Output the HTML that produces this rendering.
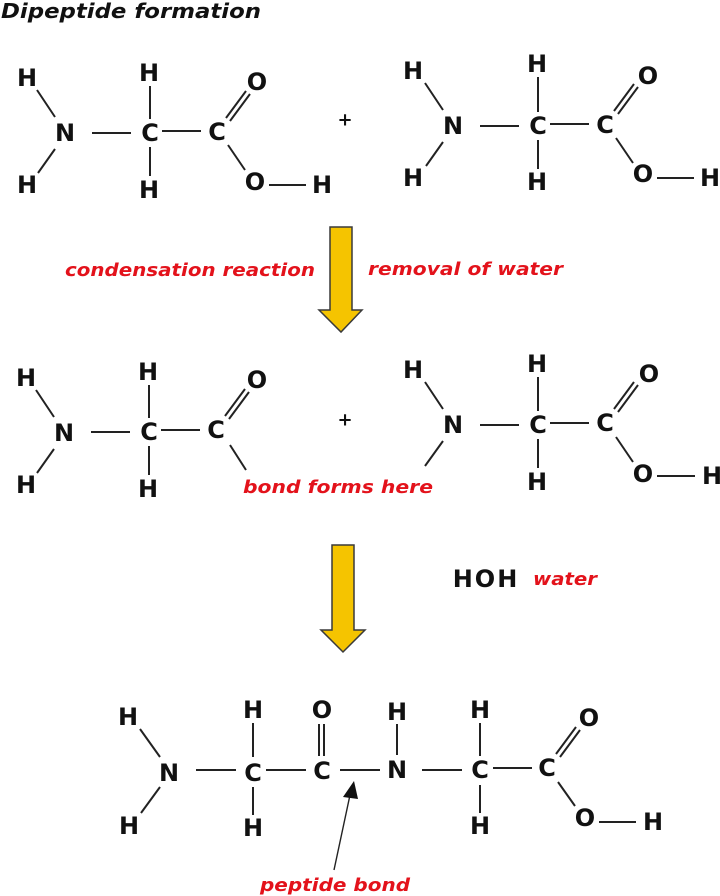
<!DOCTYPE html>
<html><head><meta charset="utf-8"><style>
html,body{margin:0;padding:0;background:#fff;}
svg{display:block;}
.a{font-family:"DejaVu Sans","Liberation Sans",sans-serif;font-weight:bold;font-size:24px;fill:#111;text-anchor:middle;dominant-baseline:central;}
.r{font-family:"DejaVu Sans","Liberation Sans",sans-serif;font-weight:bold;font-style:italic;font-size:18px;fill:#e3121b;}
line{stroke:#222;stroke-width:2;}
.ar{fill:#f5c400;stroke:#3a3a3a;stroke-width:1.5;}
</style></head><body>
<svg width="720" height="896" viewBox="0 0 720 896" xmlns="http://www.w3.org/2000/svg">
<text x="1" y="18" style="font-family:'DejaVu Sans',sans-serif;font-weight:bold;font-style:italic;font-size:20px;fill:#111;" textLength="260" lengthAdjust="spacingAndGlyphs">Dipeptide formation</text>

<g>
<text class="a" x="65" y="133">N</text>
<text class="a" x="150" y="133">C</text>
<text class="a" x="217" y="132">C</text>
<text class="a" x="27" y="78">H</text>
<text class="a" x="27" y="185">H</text>
<text class="a" x="149" y="73">H</text>
<text class="a" x="149" y="190">H</text>
<text class="a" x="257" y="82">O</text>
<text class="a" x="255" y="182">O</text>
<text class="a" x="322" y="185">H</text>
<line x1="37" y1="90" x2="55" y2="117"/>
<line x1="55" y1="149" x2="38" y2="173"/>
<line x1="92" y1="133" x2="131" y2="133"/>
<line x1="150" y1="86" x2="150" y2="119"/>
<line x1="150" y1="147" x2="150" y2="176"/>
<line x1="162" y1="131" x2="201" y2="131"/>
<line x1="226" y1="118" x2="246" y2="91"/>
<line x1="230" y1="121" x2="250" y2="94"/>
<line x1="228" y1="145" x2="245" y2="170"/>
<line x1="269" y1="185" x2="306" y2="185"/>
</g>
<text class="a" x="345" y="120" style="font-size:18px">+</text>
<g transform="translate(388,-7)">
<text class="a" x="65" y="133">N</text>
<text class="a" x="150" y="133">C</text>
<text class="a" x="217" y="132">C</text>
<text class="a" x="25" y="78">H</text>
<text class="a" x="25" y="185">H</text>
<text class="a" x="149" y="71">H</text>
<text class="a" x="149" y="189">H</text>
<text class="a" x="260" y="83">O</text>
<text class="a" x="255" y="181">O</text>
<text class="a" x="322" y="185">H</text>
<line x1="37" y1="90" x2="55" y2="117"/>
<line x1="55" y1="149" x2="38" y2="173"/>
<line x1="92" y1="133" x2="131" y2="133"/>
<line x1="150" y1="84" x2="150" y2="119"/>
<line x1="150" y1="147" x2="150" y2="176"/>
<line x1="162" y1="131" x2="201" y2="131"/>
<line x1="226" y1="118" x2="246" y2="91"/>
<line x1="230" y1="121" x2="250" y2="94"/>
<line x1="228" y1="145" x2="245" y2="170"/>
<line x1="269" y1="185" x2="306" y2="185"/>
</g>

<polygon class="ar" points="330,227 352,227 352,310 362,310 341,332 319,310 330,310"/>
<text class="r" x="65" y="276" textLength="250" lengthAdjust="spacingAndGlyphs">condensation reaction</text>
<text class="r" x="368" y="275" textLength="195" lengthAdjust="spacingAndGlyphs">removal of water</text>

<g transform="translate(-1,300)">
<text class="a" x="65" y="133">N</text>
<text class="a" x="150" y="132">C</text>
<text class="a" x="217" y="130">C</text>
<text class="a" x="27" y="78">H</text>
<text class="a" x="27" y="185">H</text>
<text class="a" x="149" y="72">H</text>
<text class="a" x="149" y="189">H</text>
<text class="a" x="258" y="80">O</text>
<line x1="37" y1="90" x2="55" y2="117"/>
<line x1="55" y1="149" x2="38" y2="173"/>
<line x1="92" y1="132" x2="131" y2="132"/>
<line x1="150" y1="85" x2="150" y2="118"/>
<line x1="150" y1="146" x2="150" y2="175"/>
<line x1="162" y1="130" x2="201" y2="130"/>
<line x1="226" y1="116" x2="246" y2="89"/>
<line x1="230" y1="119" x2="250" y2="92"/>
<line x1="231" y1="145" x2="247" y2="170"/>
</g>
<text class="a" x="345" y="420" style="font-size:18px">+</text>
<g transform="translate(388,292)">
<text class="a" x="65" y="133">N</text>
<text class="a" x="150" y="133">C</text>
<text class="a" x="217" y="131">C</text>
<text class="a" x="25" y="78">H</text>
<text class="a" x="149" y="72">H</text>
<text class="a" x="149" y="190">H</text>
<text class="a" x="261" y="82">O</text>
<text class="a" x="255" y="182">O</text>
<text class="a" x="324" y="184">H</text>
<line x1="37" y1="90" x2="55" y2="117"/>
<line x1="55" y1="149" x2="37" y2="174"/>
<line x1="92" y1="133" x2="131" y2="133"/>
<line x1="150" y1="85" x2="150" y2="119"/>
<line x1="150" y1="147" x2="150" y2="176"/>
<line x1="162" y1="131" x2="201" y2="131"/>
<line x1="226" y1="117" x2="246" y2="90"/>
<line x1="230" y1="120" x2="250" y2="93"/>
<line x1="228" y1="145" x2="245" y2="170"/>
<line x1="269" y1="184" x2="307" y2="184"/>
</g>
<text class="r" x="243" y="493" textLength="190" lengthAdjust="spacingAndGlyphs">bond forms here</text>

<polygon class="ar" points="332,545 354,545 354,630 365,630 343,652 321,630 332,630"/>
<text class="a" x="486" y="579" style="letter-spacing:2px">HOH</text>
<text class="r" x="533" y="585" textLength="64" lengthAdjust="spacingAndGlyphs">water</text>

<text class="a" x="169" y="773">N</text>
<text class="a" x="128" y="717">H</text>
<text class="a" x="129" y="826">H</text>
<text class="a" x="253" y="773">C</text>
<text class="a" x="253" y="710">H</text>
<text class="a" x="253" y="828">H</text>
<text class="a" x="322" y="771">C</text>
<text class="a" x="322" y="710">O</text>
<text class="a" x="397" y="770">N</text>
<text class="a" x="397" y="712">H</text>
<text class="a" x="480" y="770">C</text>
<text class="a" x="480" y="710">H</text>
<text class="a" x="480" y="826">H</text>
<text class="a" x="547" y="768">C</text>
<text class="a" x="589" y="718">O</text>
<text class="a" x="585" y="818">O</text>
<text class="a" x="653" y="822">H</text>
<line x1="140" y1="729" x2="160" y2="757"/>
<line x1="160" y1="787" x2="141" y2="813"/>
<line x1="196" y1="770" x2="236" y2="770"/>
<line x1="253" y1="723" x2="253" y2="757"/>
<line x1="253" y1="787" x2="253" y2="815"/>
<line x1="266" y1="770" x2="306" y2="770"/>
<line x1="319" y1="724" x2="319" y2="756"/>
<line x1="324" y1="724" x2="324" y2="756"/>
<line x1="340" y1="770" x2="380" y2="770"/>
<line x1="397" y1="724" x2="397" y2="755"/>
<line x1="422" y1="770" x2="462" y2="770"/>
<line x1="480" y1="723" x2="480" y2="756"/>
<line x1="480" y1="785" x2="480" y2="813"/>
<line x1="493" y1="768" x2="532" y2="768"/>
<line x1="556" y1="754" x2="576" y2="727"/>
<line x1="560" y1="757" x2="580" y2="730"/>
<line x1="558" y1="782" x2="575" y2="806"/>
<line x1="599" y1="822" x2="636" y2="822"/>
<line x1="334" y1="870" x2="350" y2="795" style="stroke-width:1.4"/>
<polygon points="354,781 343,797 358,799" fill="#111"/>
<text class="r" x="260" y="891" textLength="150" lengthAdjust="spacingAndGlyphs">peptide bond</text>
</svg>
</body></html>
